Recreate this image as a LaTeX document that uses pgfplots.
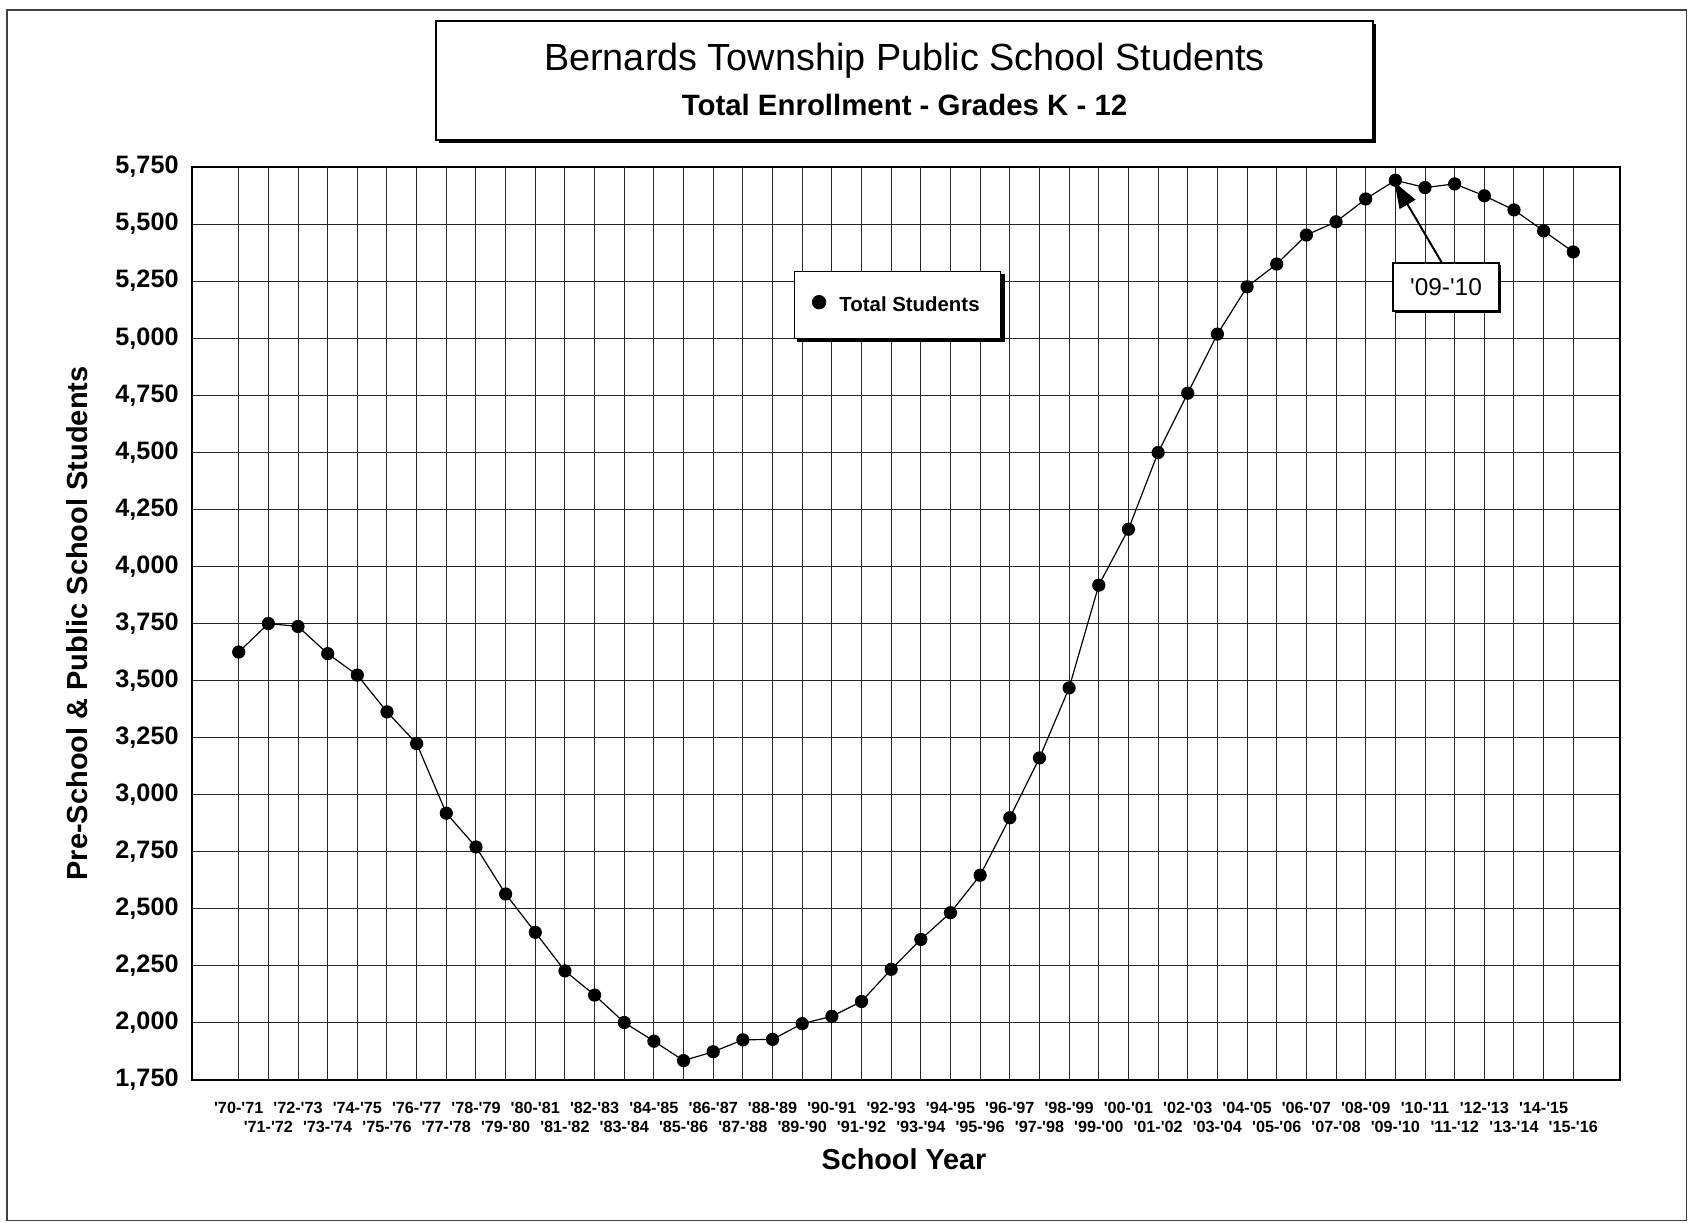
\documentclass[border=0pt]{standalone}
\usepackage{fontspec}
\setmainfont{Liberation Sans}
\newfontfamily\arial{Liberation Sans}
\usepackage{pgfplots}
\pgfplotsset{compat=1.18}
\usepackage{pgfplotstable}
\usetikzlibrary{arrows.meta,shadows}

\pgfplotstableread{
idx students
0 3625
1 3750
2 3737
3 3618
4 3524
5 3363
6 3224
7 2919
8 2771
9 2565
10 2397
11 2228
12 2122
13 2002
14 1920
15 1835
16 1874
17 1926
18 1928
19 1997
20 2029
21 2094
22 2235
23 2366
24 2483
25 2647
26 2899
27 3161
28 3468
29 3918
30 4163
31 4499
32 4759
33 5018
34 5225
35 5325
36 5452
37 5510
38 5610
39 5692
40 5660
41 5676
42 5624
43 5562
44 5470
45 5378
}\enrol

\begin{document}
\arial
\begin{tikzpicture}[x=1pt,y=1pt,font=\arial]
\useasboundingbox (0,0) rectangle (844,-611);
\draw[line width=0.6pt, black!75] (3.5,-5) rectangle (843.3,-610.3);
% title box
\node[draw=black, line width=0.7pt, fill=white, minimum width=468.5pt, minimum height=59.5pt,
  drop shadow={shadow xshift=1.6pt, shadow yshift=-1.6pt, fill=black, opacity=1}] at (452.25,-40.25) {};
\node[font=\arial\fontsize{18.9}{22}\selectfont] at (452.25,-30.5) {Bernards Township Public School Students};
\node[font=\arial\fontsize{14.7}{17}\selectfont\bfseries] at (452.25,-52.5) {Total Enrollment - Grades K - 12};

\begin{axis}[
  at={(96pt,-540pt)}, anchor=south west,
  width=714pt, height=456.5pt, scale only axis,
  xmin=-1.575, xmax=46.575,
  ymin=1750, ymax=5750,
  ytick={1750,2000,...,5750},
  /pgf/number format/assume math mode=true,
  /pgf/number format/1000 sep={,},
  yticklabel style={font=\arial\fontsize{12.6}{14}\selectfont\bfseries, xshift=-3.2pt},
  xtick={0,2,...,44},
  xticklabels={'70-'71,'72-'73,'74-'75,'76-'77,'78-'79,'80-'81,'82-'83,'84-'85,'86-'87,'88-'89,'90-'91,'92-'93,'94-'95,'96-'97,'98-'99,'00-'01,'02-'03,'04-'05,'06-'07,'08-'09,'10-'11,'12-'13,'14-'15},
  extra x ticks={1,3,...,45},
  extra x tick labels={'71-'72,'73-'74,'75-'76,'77-'78,'79-'80,'81-'82,'83-'84,'85-'86,'87-'88,'89-'90,'91-'92,'93-'94,'95-'96,'97-'98,'99-'00,'01-'02,'03-'04,'05-'06,'07-'08,'09-'10,'11-'12,'13-'14,'15-'16},
  xticklabel style={font=\arial\fontsize{8.1}{9.6}\selectfont\bfseries, yshift=-7.5pt},
  extra x tick style={grid=major, xticklabel style={yshift=-9.5pt}},
  major tick length=0pt,
  grid=major,
  major grid style={black!85, line width=0.5pt},
  axis line style={black, line width=0.6pt},
  xlabel={School Year},
  xlabel style={at={(axis description cs:0.4986,-0.0871)}, anchor=center, font=\arial\fontsize{14.4}{17}\selectfont\bfseries},
  ylabel={Pre-School \& Public School Students},
  ylabel style={at={(axis description cs:-0.0805,0.5)}, anchor=center, font=\arial\fontsize{14.5}{17}\selectfont\bfseries},
  legend style={name=leg, at={(0.4216,0.886)}, anchor=north west, draw=black, line width=0.6pt, fill=white,
    font=\arial\fontsize{10.2}{12}\selectfont\bfseries, inner xsep=8.6pt, inner ysep=10.3pt},
  legend image code/.code={\fill[black, draw=none] (0pt,1.5pt) circle (3.6pt); \path[draw=none, fill=none] (-3.6pt,1.5pt) (8.2pt,1.5pt);},
]
\addplot[black, line width=0.6pt, mark=*, mark size=3pt, mark options={fill=black}] table[x=idx, y=students] {\enrol};
\addlegendentry{Total Students}
\end{axis}
% legend shadow
\fill[black] ([xshift=1.6pt]leg.south west) rectangle ([xshift=1.6pt,yshift=-1.6pt]leg.south east);
\fill[black] (leg.south east) rectangle ([xshift=1.6pt,yshift=-1.6pt]leg.north east);

\draw[line width=1pt, -{Triangle[length=13pt,width=9pt]}] (721,-131.5) -- (697.2,-91);
\node[draw=black, line width=0.8pt, fill=white, minimum width=53pt, minimum height=24pt,
  font=\arial\fontsize{12.2}{14}\selectfont,
  drop shadow={shadow xshift=1.2pt, shadow yshift=-1.2pt, fill=black, opacity=1}] at (723,-143.4) {'09-'10};
\end{tikzpicture}
\end{document}
